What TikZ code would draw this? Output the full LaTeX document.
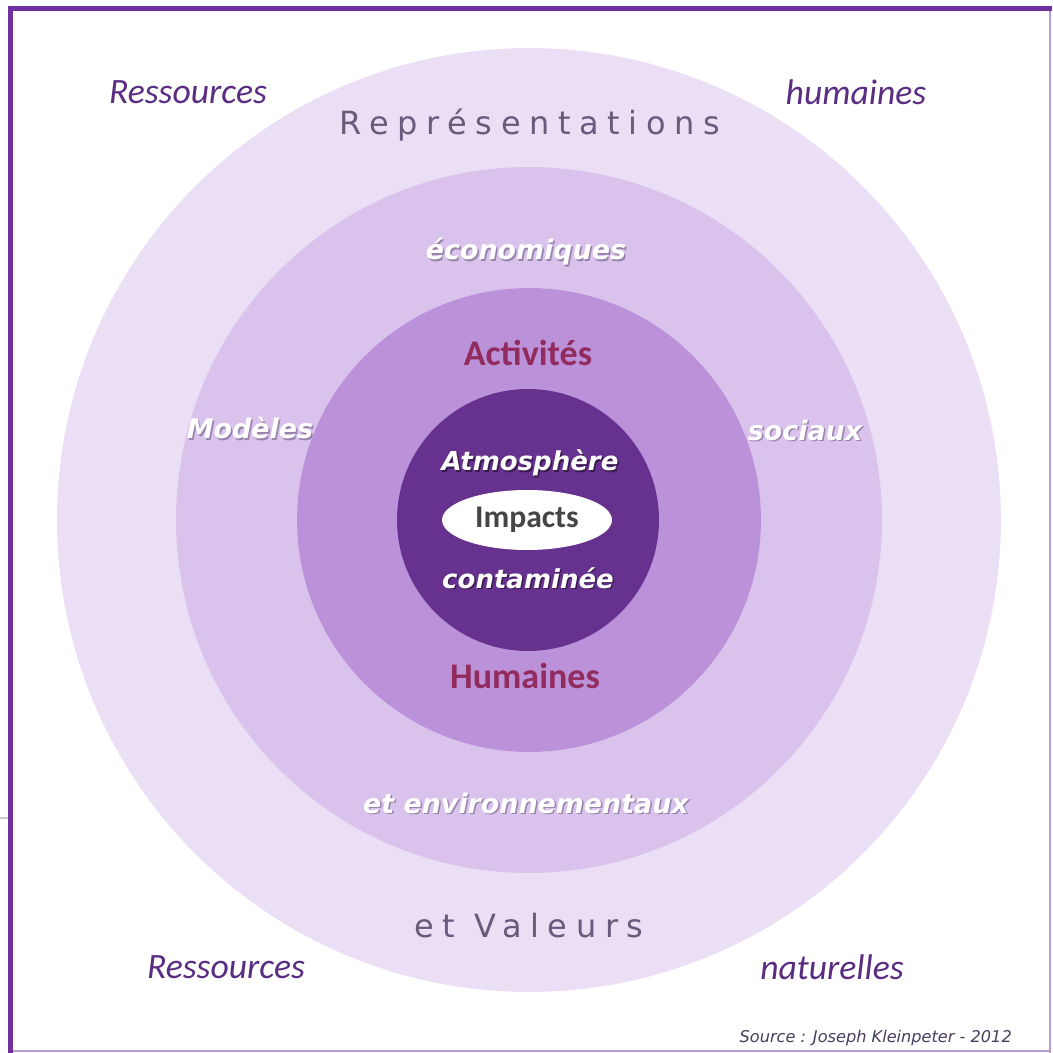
\documentclass[tikz,border=0pt]{standalone}
\usepackage{fontspec}
\setmainfont{Carlito}
\newfontfamily\vfont{DejaVu Sans}
\newfontfamily\vspaced[LetterSpace=27]{DejaVu Sans}
\usetikzlibrary{calc,shapes.geometric}
\definecolor{frame}{HTML}{7030A0}
\definecolor{framelight}{HTML}{B79CD0}
\definecolor{ringA}{HTML}{EADFF5}
\definecolor{ringB}{HTML}{D9C2EC}
\definecolor{ringC}{HTML}{BB92D9}
\definecolor{core}{HTML}{67318F}
\definecolor{respurple}{HTML}{5A2D82}
\definecolor{repgray}{HTML}{6A5A7C}
\definecolor{crimson}{HTML}{922B5E}
\definecolor{impgray}{HTML}{454545}
\definecolor{shadowc}{HTML}{6E5A80}
\definecolor{srcgray}{HTML}{4A3C5C}
\tikzset{
  res/.style={font=\fontsize{20.3}{24}\selectfont\itshape, text=respurple},
  rep/.style={font=\vspaced\fontsize{18.2}{21}\selectfont, text=repgray},
  wt/.style={font=\vfont\bfseries\itshape\fontsize{15.3}{18}\selectfont, text=white},
  wtsh/.style={font=\vfont\bfseries\itshape\fontsize{15.3}{18}\selectfont, text=shadowc, opacity=0.6},
  wtc/.style={font=\vfont\bfseries\itshape\fontsize{14.8}{18}\selectfont, text=white},
  wtcsh/.style={font=\vfont\bfseries\itshape\fontsize{14.8}{18}\selectfont, text=black, opacity=0.45},
  act/.style={font=\fontsize{20.5}{24}\selectfont\bfseries, text=crimson},
  imp/.style={font=\fontsize{18}{21}\selectfont\bfseries, text=impgray},
  src/.style={font=\vfont\itshape\fontsize{9.2}{11}\selectfont, text=srcgray},
}
\newcommand{\shtext}[3]{%
  \node[wtsh] (#1s) at ($(#2)+(1.5,1.5)$) {#3};
  \node[wt] (#1) at (#2) {#3};}
\newcommand{\shtextc}[3]{%
  \node[wtcsh] (#1s) at ($(#2)+(1.5,1.5)$) {#3};
  \node[wtc] (#1) at (#2) {#3};}
\begin{document}
\begin{tikzpicture}[x=0.02cm,y=-0.02cm]
\useasboundingbox (0,0) rectangle (1052,1053);
\fill[white] (0,0) rectangle (1052,1053);
% frame
\fill[frame] (8,6) rectangle (1052,11);
\fill[frame] (8,6) rectangle (13,1053);
\fill[framelight] (1049,11) rectangle (1051,1053);
\fill[framelight] (13,1050) rectangle (1051,1052);
\draw[gray!40, line width=0.6pt] (0,818) -- (8,818);
% rings
\fill[ringA] (529,520) circle[radius=9.44cm];
\fill[ringB] (529,520) circle[radius=7.06cm];
\fill[ringC] (529,520) circle[radius=4.64cm];
\fill[core] (528,520) circle[radius=2.62cm];
% outer texts
\node[res] (r1) at (188,92) {Ressources};
\node[res] (h1) at (856,92) {humaines};
\node[res] (r2) at (226,967) {Ressources};
\node[res] (n1) at (832,967) {naturelles};
\node[rep] (rep) at (530,125) {Représentations};
\node[rep] (val) at (529,926) {et Valeurs};
% second ring
\shtext{eco}{526,252}{économiques}
\shtext{mod}{250,428}{Modèles}
\shtext{soc}{805,430}{sociaux}
\shtext{env}{526,803}{et environnementaux}
% third ring
\node[act] (act) at (528,353) {Activités};
\node[act] (hum) at (525,676) {Humaines};
% core
\shtextc{atm}{530,463}{Atmosphère}
\shtextc{con}{528,578}{contaminée}
\node[fill=white, ellipse, minimum width=3.4cm, minimum height=1.2cm, inner sep=0pt, imp] (imp) at (527,520) {Impacts};
% source
\node[src, anchor=east] (srcn) at (1018,1038) {Source : Joseph Kleinpeter - 2012};
\end{tikzpicture}
\end{document}
